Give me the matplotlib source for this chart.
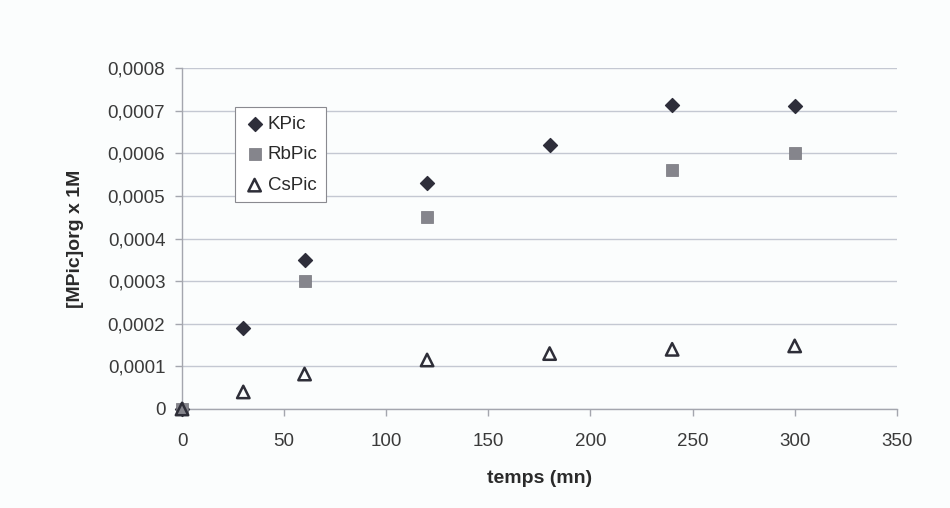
import matplotlib
matplotlib.use("Agg")
import matplotlib.pyplot as plt
from matplotlib.ticker import FuncFormatter, MultipleLocator

plt.rcParams['font.family'] = ['Liberation Sans', 'DejaVu Sans']

k_t = [0, 30, 60, 120, 180, 240, 300]
k_v = [0.0, 0.00019, 0.00035, 0.00053, 0.00062, 0.000714, 0.000712]
rb_t = [0, 60, 120, 240, 300]
rb_v = [0.0, 0.0003, 0.00045, 0.00056, 0.0006]
cs_t = [0, 30, 60, 120, 180, 240, 300]
cs_v = [0.0, 0.00004, 0.000082, 0.000115, 0.00013, 0.00014, 0.000148]

bg = '#fbfdfd'
fig = plt.figure(figsize=(9.5, 5.08), dpi=100, facecolor=bg)
ax = fig.add_axes([0.1916, 0.1949, 0.7524, 0.6712])
ax.set_facecolor(bg)

ax.scatter(k_t, k_v, marker='D', s=50, color='#2e2e3a', label='KPic', zorder=3,
           clip_on=False)
ax.scatter(rb_t, rb_v, marker='s', s=75, color='#85858c', edgecolors='#75757c',
           linewidths=0.5, label='RbPic', zorder=4, clip_on=False)
ax.scatter(cs_t, cs_v, marker='^', s=80, facecolors='none', edgecolors='#2e2e38',
           linewidths=1.8, label='CsPic', zorder=5, clip_on=False)

ax.set_xlim(0, 350)
ax.set_ylim(0, 0.0008)
ax.xaxis.set_major_locator(MultipleLocator(50))
ax.yaxis.set_major_locator(MultipleLocator(0.0001))

def yfmt(v, pos):
    if abs(v) < 1e-12:
        return '0'
    return f'{v:.4f}'.replace('.', ',')

ax.yaxis.set_major_formatter(FuncFormatter(yfmt))
ax.grid(axis='y', color='#c4c8d2', linewidth=1.0)
ax.set_axisbelow(True)
for s in ['top', 'right']:
    ax.spines[s].set_visible(False)
for s in ['left', 'bottom']:
    ax.spines[s].set_color('#a4a6ae')
    ax.spines[s].set_linewidth(1.0)
ax.tick_params(axis='both', colors='#a4a6ae', labelcolor='#3a3a3a',
               labelsize=13.5, length=5, width=1.0)
ax.tick_params(axis='x', pad=12)
ax.tick_params(axis='y', pad=7)

ax.set_xlabel('temps (mn)', fontsize=14, fontweight='bold', color='#2a2a2a', labelpad=15)
ax.set_ylabel('[MPic]org x 1M', fontsize=14, fontweight='bold', color='#2a2a2a', labelpad=17)

handles, labels = ax.get_legend_handles_labels()
leg = ax.legend(handles, labels,
                loc='upper left', bbox_to_anchor=(0.074, 0.885), fontsize=13.5,
                frameon=True, fancybox=False, edgecolor='#8a8a90', facecolor='white',
                framealpha=1, handletextpad=0.1, borderpad=0.45, labelspacing=0.72,
                handlelength=1.2, borderaxespad=0)
leg.get_frame().set_linewidth(0.8)
for t in leg.get_texts():
    t.set_color('#2a2a2a')

fig.savefig('out.png', dpi=100, facecolor=bg)
